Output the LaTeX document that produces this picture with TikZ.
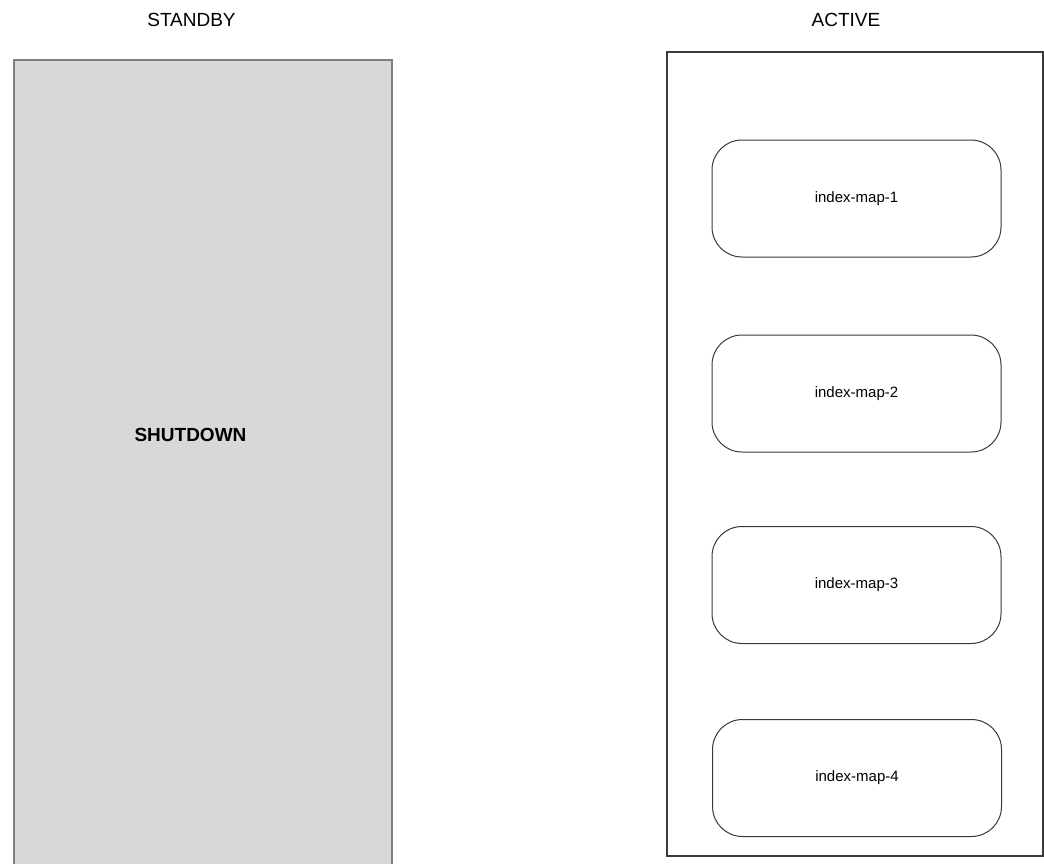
\documentclass[tikz,border=0pt]{standalone}
\usepackage{fontspec}
\setmainfont{Liberation Sans}
\definecolor{shutfill}{HTML}{D8D8D8}
\definecolor{shutline}{HTML}{7F7F7F}
\definecolor{boxline}{HTML}{3A3A3A}
\begin{document}
\begin{tikzpicture}[x=1pt,y=-1pt,
  title/.style={font=\fontsize{19}{21}\selectfont, text=black, inner sep=0pt, anchor=center},
  mapbox/.style={draw=boxline, line width=1pt, rounded corners=30pt, fill=white,
    minimum width=289pt, minimum height=117pt, font=\fontsize{15}{17}\selectfont, inner sep=0pt},
  group/.style={draw=boxline, line width=1.1pt, fill=white}]
\useasboundingbox (0,0) rectangle (1044,863);
\clip (0,0) rectangle (1044,863);
% titles
\node[title] (standbyt) at (191.5,19.5) {STANDBY};
\node[title] (activet) at (846,19.5) {ACTIVE};
% standby box
\draw[fill=shutfill, draw=shutline, line width=2pt] (13.5,59.5) rectangle (391.5,880);
\node[font=\bfseries\fontsize{19}{21}\selectfont, inner sep=0pt] (shutdown) at (190.5,435) {SHUTDOWN};
% active box
\draw[group] (667,52) rectangle (1043,856);
\node[mapbox] (m1) at (856.5,198.5) {\raisebox{-1.5pt}{index-map-1}};
\node[mapbox] (m2) at (856.5,393.5) {\raisebox{-1.5pt}{index-map-2}};
\node[mapbox] (m3) at (856.5,585) {\raisebox{-1.5pt}{index-map-3}};
\node[mapbox] (m4) at (857,778) {\raisebox{-1.5pt}{index-map-4}};
\end{tikzpicture}
\end{document}
